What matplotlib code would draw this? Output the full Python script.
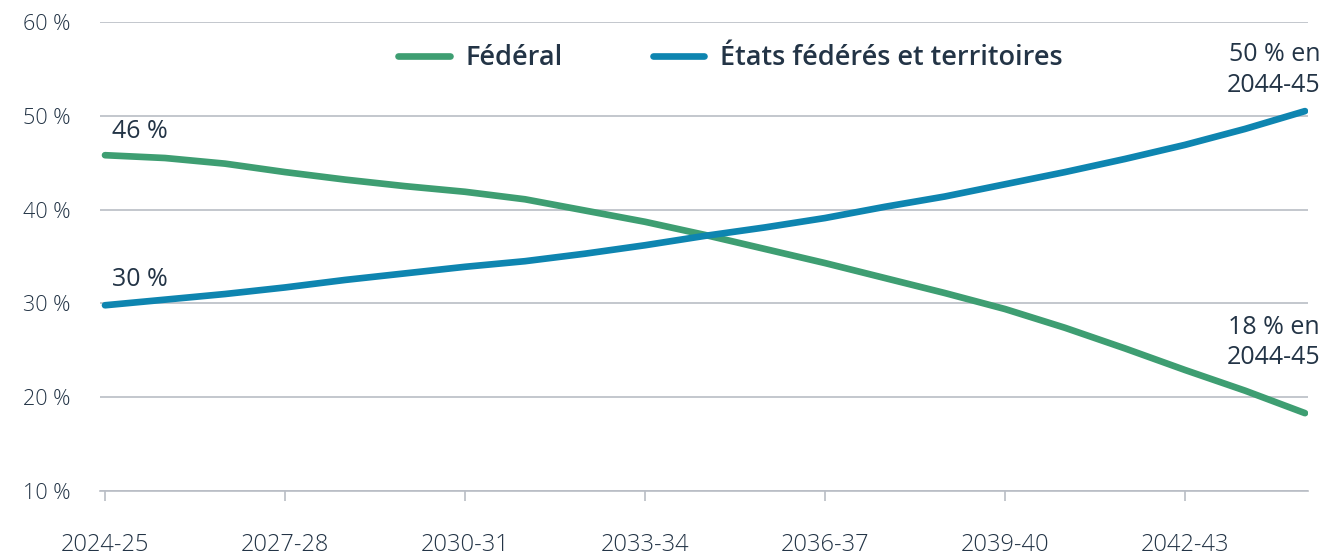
import matplotlib.pyplot as plt

# Part of spending by order of government, 2024-25 to 2044-45
years = ['2024-25', '2025-26', '2026-27', '2027-28', '2028-29', '2029-30', '2030-31',
         '2031-32', '2032-33', '2033-34', '2034-35', '2035-36', '2036-37', '2037-38',
         '2038-39', '2039-40', '2040-41', '2041-42', '2042-43', '2043-44', '2044-45']
federal = [45.8, 45.5, 44.9, 44.0, 43.2, 42.5, 41.9, 41.1, 39.9, 38.7, 37.3, 35.8,
           34.3, 32.7, 31.1, 29.4, 27.4, 25.2, 22.9, 20.7, 18.3]
etats = [29.8, 30.4, 31.0, 31.7, 32.5, 33.2, 33.9, 34.5, 35.3, 36.2, 37.2, 38.1,
         39.1, 40.3, 41.4, 42.7, 44.0, 45.4, 46.9, 48.6, 50.5]
tick_labels = years[::3]

green = '#3e9e72'
blue = '#0e85b0'
txt = '#233446'
grid = '#b9bdc5'

plt.rcParams['font.family'] = ['Open Sans', 'DejaVu Sans']

fig = plt.figure(figsize=(13.22, 5.56), dpi=100)
ax = fig.add_axes([100 / 1322, 65 / 556, 1208 / 1322, 469 / 556])

x = list(range(len(years)))
ax.plot(x, federal, color=green, lw=4.8, solid_capstyle='round', label='Fédéral', zorder=3)
ax.plot(x, etats, color=blue, lw=4.8, solid_capstyle='round',
        label='États fédérés et territoires', zorder=3)

ax.set_xlim(-5 / 60, 20 + 3 / 60)
ax.set_ylim(10, 60)
ax.set_yticks(range(10, 61, 10))
ax.set_yticklabels([f'{v} %' for v in range(10, 61, 10)], fontweight='light')
ax.set_xticks(x[::3])
ax.set_xticklabels(tick_labels, fontweight='light')

ax.grid(axis='y', color=grid, lw=1.2)
ax.set_axisbelow(True)
for s in ['top', 'right', 'left']:
    ax.spines[s].set_visible(False)
ax.spines['bottom'].set_color(grid)
ax.spines['bottom'].set_linewidth(1.2)
ax.tick_params(axis='y', length=0, pad=21, labelsize=15.5, labelcolor=txt)
ax.tick_params(axis='x', length=7, width=1.2, color=grid, pad=23, labelsize=17, labelcolor=txt)

# annotations
ax.text(0.12, 48.3, '46 %', fontsize=18, color=txt, ha='left', va='center')
ax.text(0.12, 32.6, '30 %', fontsize=18, color=txt, ha='left', va='center')
ax.text(20.25, 54.9, '50 % en\n2044-45', fontsize=18, color=txt, ha='right', va='center',
        linespacing=1.35)
ax.text(20.25, 25.8, '18 % en\n2044-45', fontsize=18, color=txt, ha='right', va='center',
        linespacing=1.25)

leg = ax.legend(loc='center', bbox_to_anchor=(0.522, 0.923), ncol=2, frameon=False,
                handlelength=1.9, handletextpad=0.6, columnspacing=3.3,
                prop={'size': 19.5, 'weight': 'semibold'})
for t in leg.get_texts():
    t.set_color(txt)

fig.savefig('out.png', dpi=100)
